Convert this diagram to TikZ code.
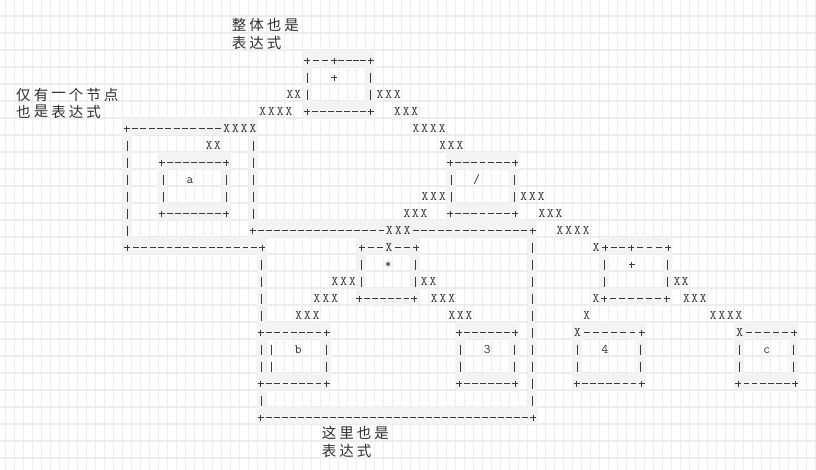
\documentclass[tikz,border=0pt]{standalone}
\usepackage{fontspec}
\newfontfamily\cjkfont{Noto Sans CJK SC}
\definecolor{txt}{HTML}{2E2E2E}
\definecolor{strk}{HTML}{3A3A3A}
\definecolor{bandc}{HTML}{F3F3F3}
\definecolor{gridc}{HTML}{EDEDED}
\tikzset{
  ch/.style={inner sep=0pt, anchor=base, text=txt, font=\ttfamily\fontsize{13}{13}\selectfont},
  cj/.style={inner sep=0pt, anchor=center, text=txt, font=\cjkfont\fontsize{14.5}{14.5}\selectfont},
  gridline/.style={draw=gridc, line width=1.3pt},
  bandfill/.style={fill=bandc},
  stroke/.style={draw=strk, line width=0.85pt}
}
% row centre
\newcommand\yc[1]{(9.7+17*#1)}
% text glyph at x, row
\newcommand\gl[3]{\node[ch] at (#1,{13.6+17*#2}) {#3};}
% plus sign at x, row
\newcommand\pl[2]{\draw[stroke] ({#1-3},{9.7+17*#2}) -- ({#1+3},{9.7+17*#2}) ({#1},{9.7+17*#2-3}) -- ({#1},{9.7+17*#2+3});}
% n dashes evenly spaced between x1 and x2 (exclusive)
\newcommand\dl[4]{\foreach \k in {1,...,#4} {\draw[stroke] ({#1+(#2-#1)*\k/(#4+1)-2.9},{9.7+17*#3}) -- ({#1+(#2-#1)*\k/(#4+1)+2.9},{9.7+17*#3});}}
% corner-dashes-corner
\newcommand\hl[4]{\pl{#1}{#3}\pl{#2}{#3}\dl{#1}{#2}{#3}{#4}}
% run of n X between left edge L and right edge R
\newcommand\xs[4]{\foreach \k in {1,...,#4} {\node[ch] at ({#1+(\k-0.5)*(#2-#1)/#4},{13.6+17*#3}) {X};}}
% vertical bars at x for rows r1..r2
\newcommand\vb[3]{\foreach \r in {#2,...,#3} {\draw[stroke] (#1,{9.7+17*\r-5}) -- (#1,{9.7+17*\r+5});}}
% box frame band: x1 x2 (glyph centres), top row, bottom row
\newcommand\band[4]{\fill[bandfill,even odd rule] ({#1-4.3},{17*#3-1}) rectangle ({#2+4.3},{17*#4+16}) ({#1+4.3},{17*#3+16}) rectangle ({#2-4.3},{17*#4-1});}
\newcommand\cjrow[3]{\foreach \c [count=\i] in {#3} {\node[cj] at ({#1+7.5+(\i-1)*17.5},#2) {\c};}}
\begin{document}
\begin{tikzpicture}[x=1pt,y=-1pt]
\useasboundingbox (0,0) rectangle (816,470);
\fill[white] (0,0) rectangle (816,470);
% grid
\foreach \i in {0,...,90} {\draw[gridline] ({5.3+9*\i},0) -- ({5.3+9*\i},470);}
\foreach \j in {0,...,27} {\draw[gridline] (0,{16+17*\j}) -- (816,{16+17*\j});}
% gray bands
\band{307.3}{370.7}{3}{6}
\band{161.7}{226}{9}{12}
\band{450}{515}{9}{12}
\band{361.7}{415.5}{14}{17}
\band{604.5}{668}{14}{17}
\band{260.7}{326.7}{19}{22}
\band{459.3}{515}{19}{22}
\band{577}{641.7}{19}{22}
\band{739}{794.5}{19}{22}
% left big box bands
\fill[bandfill] (123,{17*7-1}) rectangle (258,{17*7+16});
\fill[bandfill] (123,{17*7-1}) rectangle (131.6,{17*14+16});
\fill[bandfill] (249,{17*7-1}) rectangle (257.6,{17*13+16});
\fill[bandfill] (123,{17*14-1}) rectangle (266.6,{17*14+16});
% middle big box bands
\fill[bandfill] (248.4,{17*13-1}) rectangle (537,{17*13+16});
\fill[bandfill] (257.4,{17*13-1}) rectangle (266.2,{17*24+16});
\fill[bandfill] (528.4,{17*13-1}) rectangle (537,{17*24+16});
\fill[bandfill] (256.4,{17*24-1}) rectangle (537.6,{17*24+16});
% Chinese labels
\cjrow{231.7}{25}{整,体,也,是}
\cjrow{231.7}{42.7}{表,达,式}
\cjrow{16}{95}{仅,有,一,个,节,点}
\cjrow{16}{111.7}{也,是,表,达,式}
\cjrow{321.7}{433.3}{这,里,也,是}
\cjrow{321.7}{451}{表,达,式}
% R3
\pl{307.3}{3}\dl{307.3}{334}{3}{2}\pl{334}{3}\dl{334}{370.7}{3}{4}\pl{370.7}{3}
% R4
\vb{307.3}{4}{5}\pl{334}{4}\vb{370.7}{4}{5}
% R5
\xs{286}{301.7}{5}{2}\xs{375.7}{401.7}{5}{3}
% R6
\xs{258.3}{293.3}{6}{4}\hl{307.3}{370.7}{6}{7}\xs{393.3}{419}{6}{3}
% R7
\pl{126.7}{7}\dl{126.7}{226.7}{7}{11}\xs{222.3}{257.3}{7}{4}\xs{411.7}{446.7}{7}{4}
% R8
\xs{205}{221.7}{8}{2}\xs{438.3}{464.3}{8}{3}
% left box sides R8-R13
\vb{127.3}{8}{13}
\vb{253.3}{8}{12}
% box a
\hl{161.7}{226}{9}{7}\vb{163.3}{10}{11}\vb{226}{10}{11}\gl{190}{10}{a}\hl{161.7}{226}{12}{7}
% box /
\hl{450}{515}{9}{7}\vb{451.7}{10}{11}\vb{514.3}{10}{11}\gl{476.7}{10}{/}\hl{450}{515}{12}{7}
% R11, R12 X runs
\xs{420.7}{446.7}{11}{3}\xs{519.3}{545.7}{11}{3}
\xs{402.7}{428.3}{12}{3}\xs{537.7}{563.3}{12}{3}
% R13
\pl{252.7}{13}\dl{252.7}{389.45}{13}{16}\xs{385}{411.7}{13}{3}\dl{407.25}{532.7}{13}{14}\pl{532.7}{13}
\xs{555.7}{590.7}{13}{4}
% R14
\hl{127.3}{262.3}{14}{15}
\pl{361.7}{14}\dl{361.7}{389}{14}{2}\gl{389}{14}{X}\dl{389}{416}{14}{2}\pl{416}{14}
\gl{596.3}{14}{X}\pl{605}{14}\dl{605}{631}{14}{2}\pl{631}{14}\dl{631}{668}{14}{3}\pl{668}{14}
% middle big box sides
\vb{532.7}{14}{23}
\vb{261.7}{15}{18}
\vb{261.7}{20}{21}
\vb{261.7}{23}{23}
% box *
\vb{361.7}{15}{16}\vb{415}{15}{16}\gl{388.3}{15}{*}\hl{359}{414.3}{17}{6}
% box + (right)
\vb{604.3}{15}{16}\vb{667.7}{15}{16}\pl{631.5}{15}
\gl{596}{17}{X}\hl{604.3}{666.7}{17}{6}
% R16
\xs{330.7}{356.7}{16}{3}\xs{420}{437.3}{16}{2}\xs{673.3}{689.3}{16}{2}
% R17
\xs{312.7}{339}{17}{3}\xs{430}{456}{17}{3}\xs{682.3}{707.3}{17}{3}
% R18
\xs{294.3}{320.7}{18}{3}\xs{447.7}{473.3}{18}{3}\xs{582.7}{590.7}{18}{1}\xs{709}{743.3}{18}{4}
% box b
\hl{260.7}{326.7}{19}{7}\vb{271.7}{20}{21}\vb{326}{20}{21}\gl{298.3}{20}{b}\hl{260.7}{326.7}{22}{7}
% box 3
\hl{459.3}{515}{19}{6}\vb{460}{20}{21}\vb{514}{20}{21}\gl{487.3}{20}{3}\hl{459.3}{515}{22}{6}
% box 4
\gl{577.5}{19}{X}\dl{577.5}{641.7}{19}{6}\pl{641.7}{19}
\vb{577.3}{20}{21}\vb{640.7}{20}{21}\gl{605}{20}{4}\hl{576.7}{641.7}{22}{7}
% box c
\gl{739.7}{19}{X}\dl{739.7}{794}{19}{5}\pl{794}{19}
\vb{739.3}{20}{21}\vb{793.3}{20}{21}\gl{766.7}{20}{c}\hl{738.3}{795}{22}{6}
% R24
\hl{260.7}{533.3}{24}{33}
\end{tikzpicture}
\end{document}
